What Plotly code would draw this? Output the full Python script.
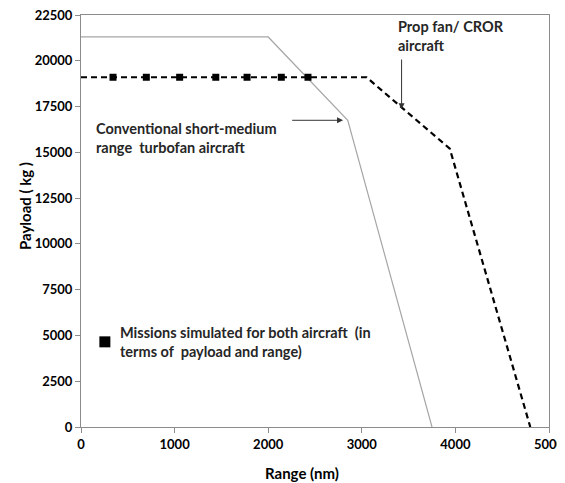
import plotly.graph_objects as go

# Payload-range envelopes (range in nm, payload in kg)
conv_range = [0, 2000, 2850, 3750]
conv_payload = [21300, 21300, 16750, 0]

cror_range = [0, 3050, 3940, 4800]
cror_payload = [19100, 19100, 15200, 0]

# Simulated missions
mission_range = [342, 698, 1054, 1440, 1774, 2140, 2425]
mission_payload = [19100] * 7

x_ticks = [0, 1000, 2000, 3000, 4000, 5000]
y_ticks = [0, 2500, 5000, 7500, 10000, 12500, 15000, 17500, 20000, 22500]

FONT = "Lato"
TXT = dict(family=FONT, size=14.5, color="#262626")
TITLE = dict(family=FONT, size=15, color="black")

fig = go.Figure()

fig.add_trace(go.Scatter(
    x=conv_range, y=conv_payload, mode="lines",
    line=dict(color="#a6a6a6", width=1.2),
    showlegend=False,
))
fig.add_trace(go.Scatter(
    x=cror_range, y=cror_payload, mode="lines",
    line=dict(color="black", width=2.2, dash="6px,4px"),
    showlegend=False,
))
fig.add_trace(go.Scatter(
    x=mission_range, y=mission_payload, mode="markers",
    marker=dict(symbol="square", color="black", size=7),
    showlegend=False,
))

# legend-like marker + text
fig.add_trace(go.Scatter(
    x=[255], y=[4650], mode="markers",
    marker=dict(symbol="square", color="black", size=11),
    showlegend=False,
))
fig.add_annotation(
    x=400, y=4650, xanchor="left", yanchor="middle",
    text="<b>Missions simulated for both aircraft  (in<br>terms of  payload and range)</b>",
    showarrow=False, align="left", font=TXT,
)
fig.add_annotation(
    x=140, y=15800, xanchor="left", yanchor="middle",
    text="<b>Conventional short-medium<br>range  turbofan aircraft</b>",
    showarrow=False, align="left", font=TXT,
)
fig.add_annotation(
    x=3365, y=21350, xanchor="left", yanchor="middle",
    text="<b>Prop fan/ CROR<br>aircraft</b>",
    showarrow=False, align="left", font=TXT,
)

# arrows
fig.add_annotation(
    x=2800, y=16750, ax=2240, ay=16750, xref="x", yref="y", axref="x", ayref="y",
    text="", showarrow=True, arrowhead=2, arrowsize=1.2, arrowwidth=1, arrowcolor="#333333",
)
fig.add_annotation(
    x=3425, y=17350, ax=3425, ay=20150, xref="x", yref="y", axref="x", ayref="y",
    text="", showarrow=True, arrowhead=2, arrowsize=1.2, arrowwidth=1, arrowcolor="#333333",
)

# axis titles (placed as annotations, slightly off-centre like the original)
fig.add_annotation(
    x=0.472, y=-0.112, xref="paper", yref="paper", showarrow=False,
    text="<b>Range (nm)</b>", font=TITLE, xanchor="center", yanchor="middle",
)
fig.add_annotation(
    x=-0.12, y=0.536, xref="paper", yref="paper", showarrow=False, textangle=-90,
    text="<b>Payload ( kg )</b>", font=TITLE, xanchor="center", yanchor="middle",
)

axis_common = dict(
    showgrid=False, zeroline=False, showline=True, linecolor="#8c8c8c", linewidth=1,
    mirror=True, ticks="outside", ticklen=5, tickcolor="#8c8c8c",
    tickformat="d", automargin=False, ticklabeloverflow="allow",
    tickfont=dict(family=FONT, size=13, color="black", weight="bold"),
)

fig.update_xaxes(range=[0, 5000], tickvals=x_ticks, **axis_common)
fig.update_yaxes(range=[0, 22500], tickvals=y_ticks, **axis_common)

# page body adds an 8px offset, so the figure is sized to the visible area
fig.update_layout(
    width=557, height=475,
    margin=dict(l=73, r=16, t=7, b=56),
    plot_bgcolor="white", paper_bgcolor="white",
)

fig.write_html("out.html")
